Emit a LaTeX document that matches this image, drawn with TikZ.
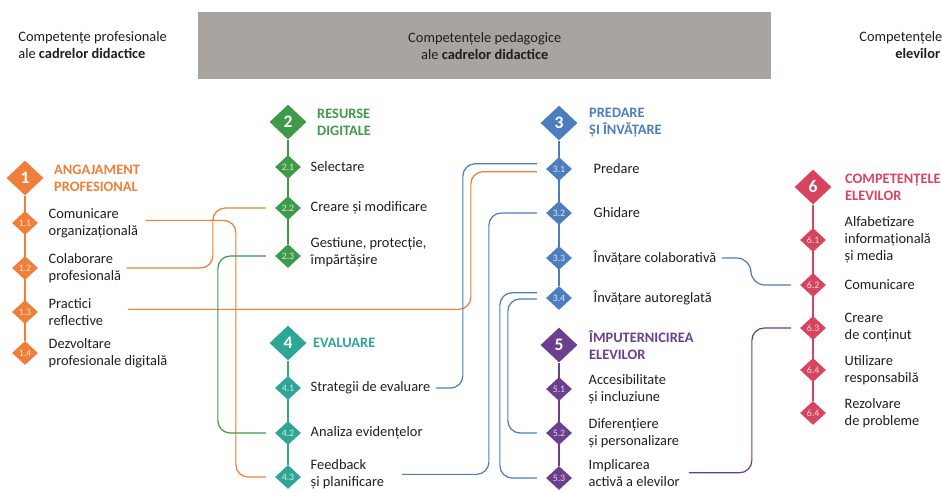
\documentclass[tikz,border=0pt]{standalone}
\usepackage{fontspec}
\setmainfont{Carlito}
\usepackage{xcolor}
\usetikzlibrary{positioning,shapes.geometric,backgrounds}
\definecolor{ink}{HTML}{1E1E1E}
\definecolor{band}{HTML}{A9A49F}
\definecolor{engage}{HTML}{EE7E38}
\definecolor{digital}{HTML}{3F9A48}
\definecolor{teach}{HTML}{4C7EBF}
\definecolor{assess}{HTML}{2DA695}
\definecolor{empower}{HTML}{6B3E8E}
\definecolor{learner}{HTML}{D8445F}
\tikzset{
  bigdia/.style={diamond,fill=#1,inner sep=0pt,minimum width=0.74cm,minimum height=0.7cm,
                 text=white,font=\fontsize{10}{10}\selectfont\bfseries},
  subdia/.style={diamond,fill=#1,inner sep=0pt,minimum width=0.52cm,minimum height=0.48cm,
                 text=white!80!#1,font=\fontsize{5.6}{6}\selectfont},
  itemtext/.style={inner sep=0pt,align=left,text=ink,font=\fontsize{8.2}{9.6}\selectfont},
  headtext/.style={inner sep=0pt,align=left,text=#1,font=\fontsize{8.2}{9.6}\selectfont\bfseries},
  hdrtext/.style={inner sep=0pt,text=ink,font=\fontsize{8.2}{9.6}\selectfont},
  spine/.style={line width=1pt,draw=#1},
  linkline/.style={line width=0.7pt,draw=#1,rounded corners=7pt}
}
\begin{document}
\begin{tikzpicture}[x=0.02cm,y=-0.02cm]
    \useasboundingbox (0,0) rectangle (942,491);
    % header
    \node[hdrtext,align=left,anchor=west] (hdrL) at (18,45) {Competențe profesionale\\ale \textbf{cadrelor didactice}};
    \node[hdrtext,align=center,fill=band,minimum width=11.46cm,minimum height=1.34cm,anchor=north west] (hdrC) at (198,12) {Competențele pedagogice\\ale \textbf{cadrelor didactice}};
    \node[hdrtext,align=left,anchor=west] (hdrR) at (859,45) {Competențele\\\hspace*{2.5em}\textbf{elevilor}};
    % 1 angajament profesional
    \node[bigdia=engage] (d1) at (25,178) {1};
    \node[headtext=engage,right=0.2cm of d1] (h1) {ANGAJAMENT\\PROFESIONAL};
    \node[subdia=engage] (d11) at (25,223) {1.1};
    \node[itemtext,right=0.2cm of d11] (t11) {Comunicare\\organizațională};
    \node[subdia=engage] (d12) at (25,268) {1.2};
    \node[itemtext,right=0.2cm of d12] (t12) {Colaborare\\profesională};
    \node[subdia=engage] (d13) at (25,312) {1.3};
    \node[itemtext,right=0.2cm of d13] (t13) {Practici\\reflective};
    \node[subdia=engage] (d14) at (25,353) {1.4};
    \node[itemtext,right=0.2cm of d14] (t14) {Dezvoltare\\profesionale digitală};
    % 2 resurse digitale
    \node[bigdia=digital] (d2) at (288,122) {2};
    \node[headtext=digital,right=0.2cm of d2] (h2) {RESURSE\\DIGITALE};
    \node[subdia=digital] (d21) at (288,167) {2.1};
    \node[itemtext,right=0.18cm of d21] (t21) {Selectare};
    \node[subdia=digital] (d22) at (288,208) {2.2};
    \node[itemtext,right=0.18cm of d22] (t22) {Creare și modificare};
    \node[subdia=digital] (d23) at (288,256) {2.3};
    \node[itemtext,right=0.18cm of d23,yshift=2pt] (t23) {Gestiune, protecție,\\împărtășire};
    % 4 evaluare
    \node[bigdia=assess] (d4) at (288,343) {4};
    \node[headtext=assess,right=0.12cm of d4] (h4) {EVALUARE};
    \node[subdia=assess] (d41) at (288,388) {4.1};
    \node[itemtext,right=0.18cm of d41] (t41) {Strategii de evaluare};
    \node[subdia=assess] (d42) at (288,433) {4.2};
    \node[itemtext,right=0.18cm of d42] (t42) {Analiza evidențelor};
    \node[subdia=assess] (d43) at (288,477) {4.3};
    \node[itemtext,right=0.18cm of d43,yshift=1.5pt] (t43) {Feedback\\și planificare};
    % 3 predare si invatare
    \node[bigdia=teach] (d3) at (559,123) {3};
    \node[headtext=teach,right=0.22cm of d3] (h3) {PREDARE\\ȘI ÎNVĂȚARE};
    \node[subdia=teach] (d31) at (559,169) {3.1};
    \node[itemtext,right=0.42cm of d31] (t31) {Predare};
    \node[subdia=teach] (d32) at (559,213) {3.2};
    \node[itemtext,right=0.42cm of d32] (t32) {Ghidare};
    \node[subdia=teach] (d33) at (559,258) {3.3};
    \node[itemtext,right=0.42cm of d33] (t33) {Învățare colaborativă};
    \node[subdia=teach] (d34) at (559,298) {3.4};
    \node[itemtext,right=0.42cm of d34] (t34) {Învățare autoreglată};
    % 5 imputernicirea elevilor
    \node[bigdia=empower] (d5) at (559,345) {5};
    \node[headtext=empower,right=0.22cm of d5] (h5) {ÎMPUTERNICIREA\\ELEVILOR};
    \node[subdia=empower] (d51) at (559,389) {5.1};
    \node[itemtext,right=0.32cm of d51] (t51) {Accesibilitate\\și incluziune};
    \node[subdia=empower] (d52) at (559,433) {5.2};
    \node[itemtext,right=0.32cm of d52] (t52) {Diferențiere\\și personalizare};
    \node[subdia=empower] (d53) at (559,478) {5.3};
    \node[itemtext,right=0.32cm of d53,yshift=3pt] (t53) {Implicarea\\activă a elevilor};
    % 6 competentele elevilor
    \node[bigdia=learner] (d6) at (813,187) {6};
    \node[headtext=learner,right=0.26cm of d6] (h6) {COMPETENȚELE\\ELEVILOR};
    \node[subdia=learner] (d61) at (813,240) {6.1};
    \node[itemtext,right=0.36cm of d61] (t61) {Alfabetizare\\informațională\\și media};
    \node[subdia=learner] (d62) at (813,285) {6.2};
    \node[itemtext,right=0.36cm of d62] (t62) {Comunicare};
    \node[subdia=learner] (d63) at (813,328) {6.3};
    \node[itemtext,right=0.36cm of d63] (t63) {Creare\\de conținut};
    \node[subdia=learner] (d64) at (813,370) {6.4};
    \node[itemtext,right=0.36cm of d64] (t64) {Utilizare\\responsabilă};
    \node[subdia=learner] (d65) at (813,413) {6.4};
    \node[itemtext,right=0.36cm of d65] (t65) {Rezolvare\\de probleme};
    \begin{pgfonlayer}{background}
      \draw[spine=engage] (d1) -- (d14);
      \draw[spine=digital] (d2) -- (d23);
      \draw[spine=assess] (d4) -- (d43);
      \draw[spine=teach] (d3) -- (d34);
      \draw[spine=empower] (d5) -- (d53);
      \draw[spine=learner] (d6) -- (d65);
      % links between competences
      \draw[linkline=engage] ([xshift=-5pt]d43.west) -- ++(-30,0) |- ([xshift=4pt,yshift=1.5pt]t11.east);
      \draw[linkline=engage] ([xshift=-5pt]d22.west) -- ++(-53,0) |- ([xshift=3pt]t12.east);
      \draw[linkline=engage] ([xshift=-5pt,yshift=-1.5pt]d31.west) -- ++(-66,0) |- ([xshift=14pt,yshift=1.5pt]t13.east);
      \draw[linkline=digital] ([xshift=-5pt]d23.west) -- ++(-48,0) |- ([xshift=-5pt]d42.west);
      \draw[linkline=teach] ([xshift=-5pt,yshift=3pt]d31.west) -- ++(-74,0) |- ([xshift=3pt]t41.east);
      \draw[linkline=teach] ([xshift=-5pt]d32.west) -- ++(-48,0) |- ([xshift=10pt]t43.east);
      \draw[linkline=teach] ([xshift=-5pt,yshift=3pt]d34.west) -- ++(-37,0) |- ([xshift=-5pt]d53.west);
      \draw[linkline=teach] ([xshift=-5pt,yshift=-0.5pt]d34.west) -- ++(-29,0) |- ([xshift=-5pt]d52.west);
      \draw[linkline=teach,rounded corners=8pt] ([xshift=-5pt]d62.west) -- ++(-40,0) |- ([xshift=3pt]t33.east);
      \draw[linkline=empower] ([xshift=-5pt]d63.west) -- ++(-39,0) |- ([xshift=5pt]t53.east);
    \end{pgfonlayer}
  \end{tikzpicture}
\end{document}
